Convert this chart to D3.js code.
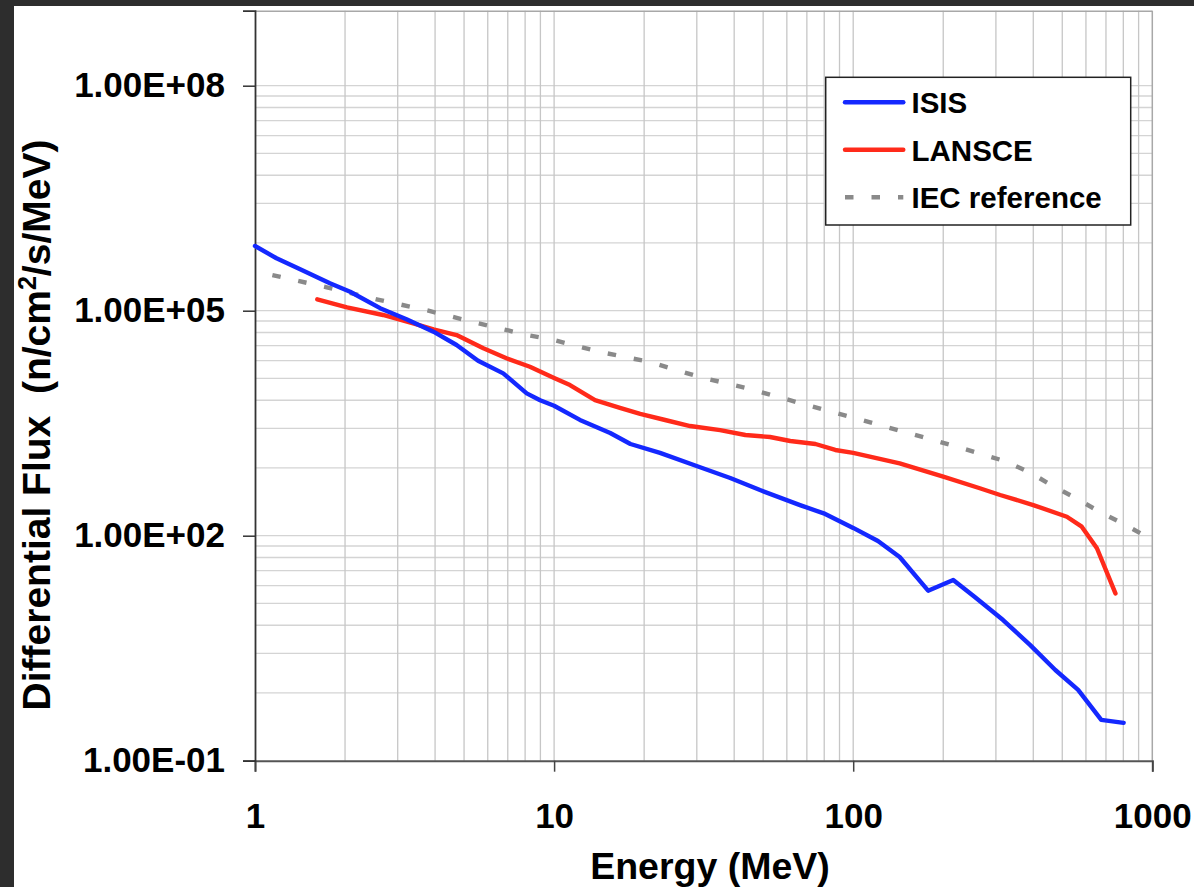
<!DOCTYPE html>
<html><head><meta charset="utf-8">
<script src="https://cdn.jsdelivr.net/npm/d3@7/dist/d3.min.js"></script>
<style>html,body{margin:0;padding:0;background:#2d2d2d;} svg{display:block;}</style>
</head><body><svg id="c" width="1194" height="887"></svg>
<script>
// ---- data ----
const isisEnergy = [1, 1.18, 1.41, 1.78, 2.08, 2.62, 3.21, 3.95, 4.72, 5.57, 6.76, 8.10, 8.98, 10, 12.2, 15.4, 18, 22.6, 30.6, 38.8, 48.8, 66.4, 80.6, 100, 121, 143, 178, 216, 255, 317, 390, 474, 565, 675, 802];
const isisFlux   = [7.3e5, 5.0e5, 3.6e5, 2.32e5, 1.79e5, 1.08e5, 7.7e4, 5.25e4, 3.49e4, 2.15e4, 1.46e4, 7.9e3, 6.4e3, 5.4e3, 3.5e3, 2.34e3, 1.67e3, 1.27e3, 824, 587, 406, 256, 195, 127, 85, 52, 18.5, 25.6, 15.2, 7.5, 3.5, 1.62, 0.88, 0.35, 0.32];
const lansceEnergy = [1.615, 2.03, 2.68, 3.38, 3.95, 4.72, 5.80, 6.93, 8.30, 10, 11.3, 13.7, 16.6, 19.4, 23.5, 28.5, 35.9, 43.6, 52.7, 61.6, 74.8, 87.1, 100, 143, 200, 265, 310, 400, 518, 581, 653, 753];
const lansceFlux   = [1.42e5, 1.11e5, 8.77e4, 6.8e4, 5.65e4, 4.74e4, 3.16e4, 2.32e4, 1.79e4, 1.27e4, 1.02e4, 6.44e3, 5.05e3, 4.2e3, 3.49e3, 2.9e3, 2.56e3, 2.2e3, 2.07e3, 1.83e3, 1.67e3, 1.39e3, 1.27e3, 923, 612, 429, 349, 256, 179, 132, 68, 17];
const iecEnergy = [1.143, 1.737, 2.55, 3.80, 5.57, 8.22, 10, 14.3, 20.9, 30.6, 45.1, 66.4, 97.9, 147, 218, 323, 391, 465, 556, 665, 795, 1000];
const iecFlux   = [2.99e5, 2.05e5, 1.42e5, 1.0e5, 6.8e4, 4.7e4, 4.06e4, 2.81e4, 2.07e4, 1.31e4, 9.06e3, 5.87e3, 3.83e3, 2.44e3, 1.57e3, 982, 692, 460, 316, 209, 146, 88];
const seriesNames = ["ISIS", "LANSCE", "IEC reference"];
const xTickValues = [1, 10, 100, 1000];
const xTickLabels = ["1", "10", "100", "1000"];
const yTickValues = [1e-1, 1e2, 1e5, 1e8];
const yTickLabels = ["1.00E-01", "1.00E+02", "1.00E+05", "1.00E+08"];
const xTitle = "Energy (MeV)";

// ---- layout ----
const svg = d3.select("#c");
const FONT = "'Liberation Sans', Arial, Helvetica, sans-serif";
svg.append("rect").attr("x", 0).attr("y", 0).attr("width", 1194).attr("height", 887).attr("fill", "#2d2d2d");
svg.append("rect").attr("x", 14).attr("y", 6).attr("width", 1180).attr("height", 881).attr("fill", "#ffffff");

const L = 255, R = 1152.3, B = 760.7;
const x = d3.scaleLog().domain([1, 1000]).range([L, R]);
const y = d3.scaleLog().domain([0.1, 1e9]).range([B, B - 750]);
const T = y(1e9);

// grid: x minor/major (standard log decades)
const xGrid = [];
for (let d = 1; d < 1000; d *= 10) for (let k = 1; k <= 9; k++) if (d * k > 1) xGrid.push(d * k);
// y grid: major every 3 decades, minor placed as k^3 within each 3-decade span
const yGrid = [];
[-1, 2, 5].forEach(e => { for (let k = 2; k <= 9; k++) yGrid.push(Math.pow(10, e) * k * k * k); });
yTickValues.slice(1).forEach(v => yGrid.push(v));

const g = svg.append("g");
g.selectAll("line.hg").data(yGrid).enter().append("line")
  .attr("x1", L).attr("x2", R).attr("y1", d => y(d)).attr("y2", d => y(d))
  .attr("stroke", "#d4d4d4").attr("stroke-width", 1.3);
g.selectAll("line.vg").data(xGrid).enter().append("line")
  .attr("x1", d => x(d)).attr("x2", d => x(d)).attr("y1", T).attr("y2", B)
  .attr("stroke", "#c6c6c6").attr("stroke-width", 1.3);

// plot border top / right
g.append("line").attr("x1", L).attr("x2", R).attr("y1", T + 0.5).attr("y2", T + 0.5).attr("stroke", "#a8a8a8").attr("stroke-width", 1.5);
g.append("line").attr("x1", R).attr("x2", R).attr("y1", T).attr("y2", B).attr("stroke", "#a8a8a8").attr("stroke-width", 1.5);

// axes
const xAxis = d3.axisBottom(x).tickValues(xTickValues).tickSize(11).tickPadding(31)
  .tickFormat((d, i) => xTickLabels[i]);
const gx = svg.append("g").attr("transform", `translate(0,${B})`).call(xAxis);
gx.select(".domain").attr("stroke", "#555").attr("stroke-width", 2);
gx.selectAll(".tick line").attr("stroke", "#444").attr("stroke-width", 1.5);
gx.selectAll(".tick text").attr("font-family", FONT).attr("font-weight", "bold").attr("font-size", 35).attr("fill", "#000");

const yAxis = d3.axisLeft(y).tickValues(yTickValues).tickSize(12).tickPadding(18)
  .tickFormat((d, i) => yTickLabels[i]);
const gy = svg.append("g").attr("transform", `translate(${L},0)`).call(yAxis);
gy.select(".domain").attr("stroke", "#333").attr("stroke-width", 1.8);
gy.selectAll(".tick line").attr("stroke", "#333").attr("stroke-width", 1.5);
gy.selectAll(".tick text").attr("font-family", FONT).attr("font-weight", "bold").attr("font-size", 35).attr("fill", "#000");

// series
const line = d3.line().x(d => x(d[0])).y(d => y(d[1]));
const series = [
  { name: seriesNames[0], pts: d3.zip(isisEnergy, isisFlux), color: "#1428ff", dash: null },
  { name: seriesNames[1], pts: d3.zip(lansceEnergy, lansceFlux), color: "#ff2a1a", dash: null },
  { name: seriesNames[2], pts: d3.zip(iecEnergy, iecFlux), color: "#8a8a8a", dash: "8.5,18" }
];
// draw IEC first (behind)
[series[2], series[1], series[0]].forEach(s => {
  svg.append("path").attr("d", line(s.pts)).attr("fill", "none")
    .attr("stroke", s.color).attr("stroke-width", 4.4)
    .attr("stroke-linejoin", "round").attr("stroke-linecap", s.dash ? "butt" : "round")
    .attr("stroke-dasharray", s.dash);
});

// legend
const lg = svg.append("g");
lg.append("rect").attr("x", 825.7).attr("y", 77.3).attr("width", 305).attr("height", 147.7)
  .attr("fill", "#fff").attr("stroke", "#222").attr("stroke-width", 1.5);
series.forEach((s, i) => {
  const yy = 102.3 + i * 47.5;
  lg.append("line").attr("x1", 845).attr("x2", 903.3).attr("y1", yy).attr("y2", yy)
    .attr("stroke", s.color).attr("stroke-width", 4.4).attr("stroke-linecap", s.dash ? "butt" : "round")
    .attr("stroke-dasharray", s.dash ? "8.5,18" : null);
  lg.append("text").attr("x", 911.5).attr("y", yy + 11).text(s.name)
    .attr("font-family", FONT).attr("font-weight", "bold").attr("font-size", 29.5).attr("fill", "#000");
});

// axis titles
svg.append("text").attr("x", 710).attr("y", 879).attr("text-anchor", "middle").text(xTitle)
  .attr("font-family", FONT).attr("font-weight", "bold").attr("font-size", 37.5).attr("fill", "#000");

const yt = svg.append("text").attr("transform", "translate(50,425) rotate(-90)").attr("text-anchor", "middle")
  .attr("font-family", FONT).attr("font-weight", "bold").attr("font-size", 39).attr("fill", "#000")
  .attr("xml:space", "preserve");
yt.append("tspan").text("Differential Flux  (n/cm");
yt.append("tspan").attr("dy", -14).attr("font-size", 25).text("2");
yt.append("tspan").attr("dy", 14).text("/s/MeV)");
</script></body></html>
